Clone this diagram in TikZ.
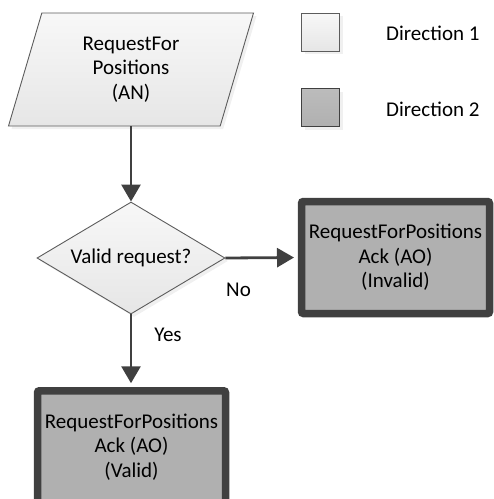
\documentclass[tikz,border=0pt]{standalone}
\usepackage{fontspec}
\setmainfont{Carlito}
\usetikzlibrary{arrows.meta,shapes.geometric,shadows}
\definecolor{linegray}{HTML}{404040}
\definecolor{edgegray}{HTML}{5C5C5C}
\definecolor{lightfill}{HTML}{E6E6E6}
\definecolor{darkfill}{HTML}{B0B0B0}
\def\flowfont{\fontsize{21}{24.5}\selectfont}
\tikzset{
	lightshape/.style={draw=edgegray, line width=0.9pt, top color=white!70!lightfill, bottom color=lightfill,
		drop shadow={shadow xshift=3pt, shadow yshift=-3pt, opacity=0.12}, align=center, inner sep=0pt},
	darkshape/.style={draw=linegray, line width=0.9pt, top color=darkfill!85!white, bottom color=darkfill,
		drop shadow={shadow xshift=3pt, shadow yshift=-3pt, opacity=0.12}, inner sep=0pt},
	resultbox/.style={draw=linegray, line width=7.5pt, rounded corners=2pt, fill=darkfill,
		drop shadow={shadow xshift=3pt, shadow yshift=-3pt, opacity=0.12},
		minimum width=188pt, minimum height=112pt, align=center, inner sep=0pt},
	flowarrow/.style={draw=linegray, line width=2.8pt, -{Triangle[width=19pt,length=17pt]}},
}

\begin{document}
\begin{tikzpicture}[x=1pt, y=-1pt, every node/.style={font=\flowfont}]
	%%%%% START %%%%%
	\useasboundingbox (0, 0) rectangle (494, 499);
	\clip (0, 0) rectangle (494, 499);

	% key
	\node[lightshape, minimum size=38pt] (keyone) at (320.5, 32) {};
	\node[darkshape, minimum size=38pt] (keytwo) at (320.5, 107.5) {};
	\node[anchor=west, inner sep=0pt] (keyonetext) at (386, 33) {Direction 1};
	\node[anchor=west, inner sep=0pt] (keytwotext) at (386, 109) {Direction 2};

	% flow
	\node[lightshape, trapezium, trapezium left angle=63, trapezium right angle=117,
		trapezium stretches body, minimum width=245pt, minimum height=113pt] (request) at (131, 69.5)
		{RequestFor\\Positions\\(AN)};
	\node[lightshape, diamond, aspect=1.68, minimum width=188pt, minimum height=112pt] (check) at (131, 258)
		{Valid request?};
	\node[resultbox] (invalid) at (395.5, 257.5) {RequestForPositions\\Ack (AO)\\(Invalid)};
	\node[resultbox] (valid) at (131.5, 446.75) {RequestForPositions\\Ack (AO)\\(Valid)};

	\node (nolabel) at (238.5, 290) {No};
	\node (yeslabel) at (168, 335) {Yes};

	\draw[flowarrow] (request.south -| check.north) -- (check.north);
	\draw[flowarrow, shorten >=3.75pt] (check.east) -- (invalid.west);
	\draw[flowarrow, shorten >=3.75pt] (check.south) -- (valid.north -| check.south);
	%%%%% END %%%%%
\end{tikzpicture}
\end{document}
